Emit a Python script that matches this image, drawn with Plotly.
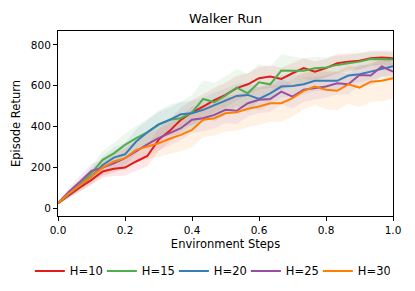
import plotly.graph_objects as go

steps = [i / 30 for i in range(31)]

h10 = [25, 65, 103, 139, 180, 193, 199, 229, 256, 335, 379, 433, 470, 498, 530, 555,
       588, 607, 637, 645, 633, 661, 686, 669, 686, 710, 718, 722, 735, 738, 735]
h15 = [25, 73, 118, 171, 237, 269, 310, 343, 372, 408, 433, 441, 470, 535, 519, 552,
       591, 563, 617, 607, 674, 673, 673, 686, 689, 702, 710, 718, 731, 731, 728]
h20 = [25, 70, 114, 155, 212, 248, 264, 327, 372, 411, 433, 460, 465, 482, 506, 526,
       550, 555, 535, 563, 596, 599, 607, 624, 624, 624, 650, 656, 669, 682, 696]
h25 = [25, 82, 131, 183, 199, 220, 245, 281, 313, 343, 367, 392, 433, 441, 457, 482,
       477, 514, 531, 535, 571, 547, 580, 588, 596, 612, 607, 653, 650, 694, 669]
h30 = [25, 73, 114, 155, 199, 229, 245, 286, 302, 318, 340, 359, 384, 433, 441, 465,
       470, 487, 498, 514, 514, 539, 575, 596, 580, 575, 607, 591, 620, 624, 637]

sd10 = [8, 15, 20, 25, 30, 35, 40, 45, 50, 55, 55, 60, 60, 60, 60, 60,
        60, 55, 55, 55, 55, 50, 50, 50, 45, 45, 40, 40, 35, 35, 35]
sd15 = [8, 15, 25, 35, 45, 50, 55, 60, 65, 70, 75, 80, 85, 90, 95, 95,
        90, 95, 90, 85, 80, 70, 60, 55, 50, 45, 40, 40, 35, 35, 35]
sd20 = [8, 15, 25, 35, 45, 50, 55, 60, 60, 60, 60, 60, 60, 60, 60, 60,
        60, 60, 55, 55, 55, 50, 50, 50, 45, 45, 40, 40, 40, 40, 40]
sd25 = [8, 20, 30, 35, 40, 45, 50, 55, 60, 60, 60, 60, 65, 65, 65, 65,
        65, 65, 65, 65, 60, 60, 60, 55, 55, 55, 50, 50, 50, 45, 45]
sd30 = [8, 20, 30, 35, 45, 50, 55, 60, 65, 70, 75, 80, 85, 85, 85, 90,
        90, 90, 90, 90, 90, 90, 90, 90, 95, 95, 95, 95, 100, 100, 100]

labels = ["H=10", "H=15", "H=20", "H=25", "H=30"]
series = [h10, h15, h20, h25, h30]
spreads = [sd10, sd15, sd20, sd25, sd30]
colors = ["#e41a1c", "#4daf4a", "#377eb8", "#984ea3", "#ff7f00"]
fills = ["rgba(228,26,28,0.10)", "rgba(77,175,74,0.10)", "rgba(55,126,184,0.10)",
         "rgba(152,78,163,0.10)", "rgba(255,127,0,0.10)"]

fig = go.Figure()
for lab, ys, sd, c, fc in zip(labels, series, spreads, colors, fills):
    upper = [y + s for y, s in zip(ys, sd)]
    lower = [y - s for y, s in zip(ys, sd)]
    fig.add_trace(go.Scatter(x=steps + steps[::-1], y=upper + lower[::-1],
                             fill="toself", fillcolor=fc, line=dict(width=0),
                             hoverinfo="skip", showlegend=False))
for lab, ys, c in zip(labels, series, colors):
    fig.add_trace(go.Scatter(x=steps, y=ys, mode="lines", name=lab,
                             line=dict(color=c, width=2)))

axis_common = dict(showline=True, linecolor="black", linewidth=1, mirror=True,
                   ticks="outside", ticklen=4, tickcolor="black", showgrid=False,
                   zeroline=False, automargin=True,
                   tickfont=dict(size=10.5, color="black"))

fig.update_layout(
    width=415, height=291,
    margin=dict(l=58, r=22, t=31, b=75, autoexpand=False),
    paper_bgcolor="white", plot_bgcolor="white",
    font=dict(family="DejaVu Sans", color="black", size=11),
    title=dict(text="Walker Run", x=0.5436, xanchor="center", y=0.935, yanchor="middle",
               font=dict(size=13)),
    xaxis=dict(range=[0, 1], tickvals=[0, 0.2, 0.4, 0.6, 0.8, 1.0],
               ticktext=["0.0", "0.2", "0.4", "0.6", "0.8", "1.0"],
               title=dict(text="Environment Steps", standoff=5, font=dict(size=11.5)),
               **axis_common),
    yaxis=dict(range=[-38, 868], tickvals=[0, 200, 400, 600, 800],
               title=dict(text="Episode Return", standoff=7, font=dict(size=11.5)),
               **axis_common),
    legend=dict(orientation="h", xref="paper", x=-0.084, xanchor="left",
                yref="paper", y=-0.297, yanchor="middle",
                font=dict(size=11.5), itemwidth=30, tracegroupgap=0,
                entrywidth=27, entrywidthmode="pixels"),
    showlegend=True,
)

fig.write_html("out.html", post_script="document.body.style.margin='0';",
               config={"displayModeBar": False})
